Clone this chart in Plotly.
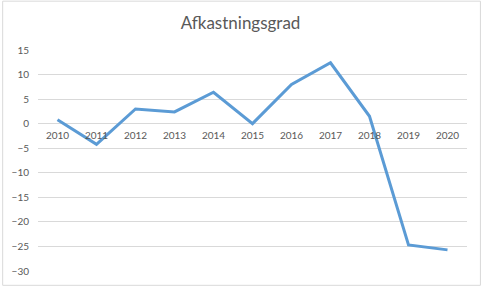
import plotly.graph_objects as go

years = ["2010", "2011", "2012", "2013", "2014", "2015", "2016", "2017", "2018", "2019", "2020"]
values = [0.8, -4.2, 3.0, 2.4, 6.4, 0.0, 8.0, 12.4, 1.5, -24.7, -25.7]
y_ticks = [15, 10, 5, 0, -5, -10, -15, -20, -25, -30]

W, H = 481, 289
ml, mr, mt, mb = 36, 14, 50, 15
pw, ph = W - ml - mr, H - mt - mb
font = "Lato, 'Open Sans', sans-serif"
grey = "#595959"

fig = go.Figure(go.Scatter(
    x=years, y=values, mode="lines",
    line=dict(color="#5B9BD5", width=3),
    hoverinfo="skip",
))

ymin, ymax = -30, 15
fig.update_layout(
    width=W, height=H,
    margin=dict(l=ml, r=mr, t=mt, b=mb),
    paper_bgcolor="white", plot_bgcolor="white",
    showlegend=False,
    title=dict(text="Afkastningsgrad", x=0.5, xref="container", xanchor="center",
               y=1 - 23 / H, yref="container", yanchor="middle",
               font=dict(family=font, size=17, color=grey)),
    xaxis=dict(type="category", categoryorder="array", categoryarray=years,
               range=[-0.5, len(years) - 0.5],
               anchor="free", position=(0 - ymin) / (ymax - ymin),
               showgrid=False, zeroline=False, showline=False, ticks="",
               ticklabelstandoff=4,
               tickfont=dict(family=font, size=10, color=grey)),
    yaxis=dict(range=[ymin, ymax], tickvals=y_ticks,
               showgrid=True, gridcolor="#D9D9D9", gridwidth=1,
               zeroline=False, showline=False, ticks="",
               ticklabelstandoff=8,
               tickfont=dict(family=font, size=10, color=grey)),
    shapes=[dict(type="rect", xref="paper", yref="paper",
                 x0=(0.5 - ml) / pw, x1=(W - 0.5 - ml) / pw,
                 y0=-(mb - 0.5) / ph, y1=1 + (mt - 0.5) / ph,
                 line=dict(color="#D9D9D9", width=1), layer="below")],
)

fig.write_html("out.html")
